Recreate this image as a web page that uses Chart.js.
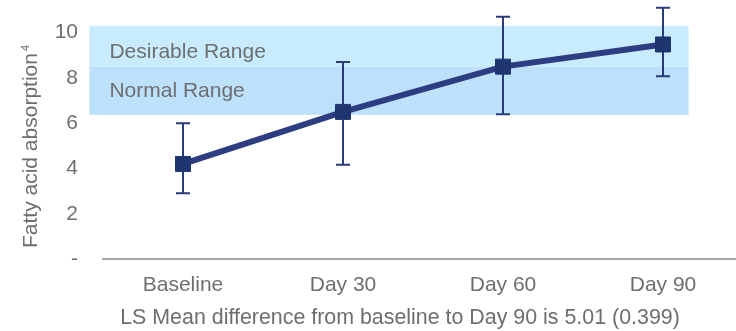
<!DOCTYPE html>
<html lang="en">
<head>
  <meta charset="UTF-8" />
  <title>Fatty acid absorption</title>
  <script src="https://cdn.jsdelivr.net/npm/chart.js"></script>
  <style>
    html, body {
      margin: 0;
      padding: 0;
      background: #ffffff;
      overflow: hidden;
    }
    #chart {
      display: block;
    }
  </style>
</head>
<body>
  <canvas id="chart" width="746" height="331"></canvas>

  <script>
    // data
    const categories = ['Baseline', 'Day 30', 'Day 60', 'Day 90'];
    const meanValues = [4.2, 6.5, 8.5, 9.48];
    const upperValues = [6.0, 8.7, 10.7, 11.1];
    const lowerValues = [2.9, 4.17, 6.4, 8.08];
    const yTicks = [0, 2, 4, 6, 8, 10];
    const bandNames = ['Desirable Range', 'Normal Range'];
    const bandFrom = [8.5, 6.37];
    const bandTo = [10.3, 8.5];
    const bandColors = ['#c8ecfd', '#bde1fa'];

    const grey = '#6d6e71';
    const fontFamily = "'Liberation Sans', Arial, sans-serif";

    const overlayPlugin = {
      id: 'overlay',
      beforeDatasetsDraw(chart) {
        const ctx = chart.ctx;
        const x = chart.scales.x;
        const y = chart.scales.y;
        const x0 = x.getPixelForValue(0);
        const step = x.getPixelForValue(1) - x0;
        const left = x0 - 0.585 * step;
        const right = x0 + 3.16 * step;

        ctx.save();
        // range bands
        bandNames.forEach((name, i) => {
          const top = y.getPixelForValue(bandTo[i]);
          const bottom = y.getPixelForValue(bandFrom[i]);
          ctx.fillStyle = bandColors[i];
          ctx.fillRect(left, top, right - left, bottom - top);
        });
        ctx.font = '21px ' + fontFamily;
        ctx.fillStyle = grey;
        ctx.textBaseline = 'middle';
        ctx.textAlign = 'left';
        bandNames.forEach((name, i) => {
          const top = y.getPixelForValue(bandTo[i]);
          const bottom = y.getPixelForValue(bandFrom[i]);
          const offset = i === 0 ? 6 : 0;
          ctx.fillText(name, left + 20, (top + bottom) / 2 + offset);
        });

        // error bars
        ctx.strokeStyle = '#2a3b7a';
        ctx.lineWidth = 2;
        categories.forEach((c, i) => {
          const px = x.getPixelForValue(i);
          const hi = y.getPixelForValue(upperValues[i]);
          const lo = y.getPixelForValue(lowerValues[i]);
          ctx.beginPath();
          ctx.moveTo(px, hi);
          ctx.lineTo(px, lo);
          ctx.moveTo(px - 7, hi);
          ctx.lineTo(px + 7, hi);
          ctx.moveTo(px - 7, lo);
          ctx.lineTo(px + 7, lo);
          ctx.stroke();
        });
        ctx.restore();
      },
      afterDraw(chart) {
        const ctx = chart.ctx;
        ctx.save();
        ctx.font = '21.4px ' + fontFamily;
        ctx.fillStyle = grey;
        ctx.textBaseline = 'middle';
        ctx.textAlign = 'center';
        ctx.fillText('LS Mean difference from baseline to Day 90 is 5.01 (0.399)', 400, 318);

        // rotated y axis title with superscript
        ctx.translate(37, 248);
        ctx.rotate(-Math.PI / 2);
        ctx.textAlign = 'left';
        ctx.textBaseline = 'alphabetic';
        const main = 'Fatty acid absorption';
        ctx.font = '21px ' + fontFamily;
        const w = ctx.measureText(main).width;
        ctx.fillText(main, 0, 0);
        ctx.font = '11px ' + fontFamily;
        ctx.fillText('4', w + 2, -8);
        ctx.restore();
      }
    };

    new Chart(document.getElementById('chart'), {
      type: 'line',
      data: {
        labels: categories,
        datasets: [{
          label: 'Fatty acid absorption',
          data: meanValues,
          borderColor: '#2c3d82',
          borderWidth: 6,
          pointStyle: 'rect',
          pointRadius: 10.6,
          pointBackgroundColor: '#1f3570',
          pointBorderColor: '#1f3570',
          pointBorderWidth: 1,
          tension: 0
        }]
      },
      options: {
        responsive: false,
        animation: false,
        layout: { autoPadding: false, padding: { top: 1, right: 3, left: 0, bottom: 0 } },
        plugins: {
          legend: { display: false },
          tooltip: { enabled: false }
        },
        scales: {
          x: {
            offset: true,
            grid: { display: false, drawTicks: false },
            border: { display: true, color: '#a6a6a6', width: 2 },
            ticks: {
              color: grey,
              font: { family: fontFamily, size: 21 },
              padding: 14
            },
            afterFit(scale) {
              scale.height = 72;
              scale.paddingLeft = 0;
              scale.paddingRight = 0;
            }
          },
          y: {
            min: 0,
            max: 11.4,
            grid: { display: false, drawTicks: false },
            border: { display: false },
            afterBuildTicks(scale) {
              scale.ticks = yTicks.map(v => ({ value: v }));
            },
            ticks: {
              color: grey,
              font: { family: fontFamily, size: 21 },
              padding: 25,
              callback: v => v === 0 ? '-' : v
            },
            afterFit(scale) {
              scale.width = 103;
              scale.paddingTop = 0;
              scale.paddingBottom = 0;
            }
          }
        }
      },
      plugins: [overlayPlugin]
    });
  </script>
</body>
</html>
